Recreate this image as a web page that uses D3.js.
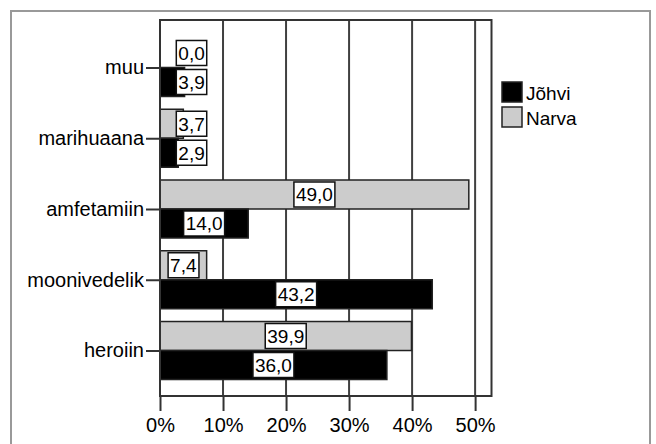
<!DOCTYPE html>
<html><head><meta charset="utf-8">
<script src="https://cdn.jsdelivr.net/npm/d3@7"></script>
<style>body{margin:0;background:#fff}svg{display:block}text{font-family:"Liberation Sans",Arial,sans-serif}</style>
</head><body><svg id="c" width="656" height="444"></svg>
<script>
const categories = ["muu","marihuaana","amfetamiin","moonivedelik","heroiin"];
const series = ["Narva","Jõhvi"];
const narva = [0.0, 3.7, 49.0, 7.4, 39.9];
const johvi = [3.9, 2.9, 14.0, 43.2, 36.0];
const ticks = [0,10,20,30,40,50];
const colors = {"Jõhvi":"#000000","Narva":"#cccccc"};
const legendItems = ["Jõhvi","Narva"];

const svg = d3.select("#c");
const L=160, R=491.5, T=20, B=396;
const x = d3.scaleLinear().domain([0,52.6]).range([L,R]);
const y = d3.scalePoint().domain(categories).range([T+1,B+1]).padding(0.657);
const barH = 29;
const sub = d3.scaleBand().domain(series).range([-barH, barH]);

// outer frame
svg.append("rect").attr("x",11).attr("y",11).attr("width",639).attr("height",450)
  .attr("fill","none").attr("stroke","#999").attr("stroke-width",2);

// gridlines
svg.append("g").selectAll("line").data(ticks.slice(1)).join("line")
  .attr("x1",d=>x(d)).attr("x2",d=>x(d)).attr("y1",T).attr("y2",B)
  .attr("stroke","#404040").attr("stroke-width",2);

// bars
const data = [];
categories.forEach((c,i)=>{
  data.push({cat:c,s:"Narva",v:narva[i]});
  data.push({cat:c,s:"Jõhvi",v:johvi[i]});
});
svg.append("g").selectAll("rect").data(data).join("rect")
  .attr("x",x(0)).attr("y",d=>y(d.cat)+sub(d.s))
  .attr("width",d=>x(d.v)-x(0)).attr("height",sub.bandwidth())
  .attr("fill",d=>colors[d.s]).attr("stroke",d=>d.v>0?"#222":"none").attr("stroke-width",1.5);

// value labels
const lab = svg.append("g").selectAll("g").data(data).join("g")
  .attr("transform",d=>{
    const mid=(x(0)+x(d.v))/2;
    const cx = d.v<5 ? x(5) : mid;
    return `translate(${cx},${y(d.cat)+sub(d.s)+sub.bandwidth()/2})`;
  });
lab.append("text").attr("text-anchor","middle").attr("dy","0.36em")
  .attr("font-size",19).attr("fill","#000")
  .text(d=>d.v.toFixed(1).replace(".",","));
lab.each(function(){
  const g=d3.select(this); const bb=g.select("text").node().getBBox();
  g.insert("rect","text").attr("x",bb.x-2).attr("y",-12.5).attr("width",bb.width+4).attr("height",25)
   .attr("fill","#fff").attr("stroke","#111").attr("stroke-width",1.5);
});

// plot frame
svg.append("rect").attr("x",L).attr("y",T).attr("width",R-L).attr("height",B-T)
  .attr("fill","none").attr("stroke","#333").attr("stroke-width",2);

// x axis
const xa = svg.append("g").attr("transform",`translate(0,${B})`)
  .call(d3.axisBottom(x).tickValues(ticks).tickFormat(d=>d+"%").tickSize(15).tickPadding(7));
xa.select(".domain").remove();
xa.selectAll("line").attr("stroke","#333").attr("stroke-width",2);
xa.selectAll("text").attr("font-size",20).attr("font-family","Liberation Sans, Arial").attr("fill","#000");

// y axis
const ya = svg.append("g").attr("transform",`translate(${L},0)`)
  .call(d3.axisLeft(y).tickSize(14).tickPadding(2));
ya.select(".domain").remove();
ya.selectAll("line").attr("stroke","#333").attr("stroke-width",2);
ya.selectAll("text").attr("font-size",20).attr("font-family","Liberation Sans, Arial").attr("fill","#000");

// legend
const lg = svg.append("g").selectAll("g").data(legendItems).join("g")
  .attr("transform",(d,i)=>`translate(502,${82+i*25})`);
lg.append("rect").attr("width",20).attr("height",20).attr("fill",d=>colors[d]).attr("stroke","#222").attr("stroke-width",1.5);
lg.append("text").attr("x",24).attr("y",11).attr("dy","0.36em").attr("font-size",19).text(d=>d);
</script></body></html>
